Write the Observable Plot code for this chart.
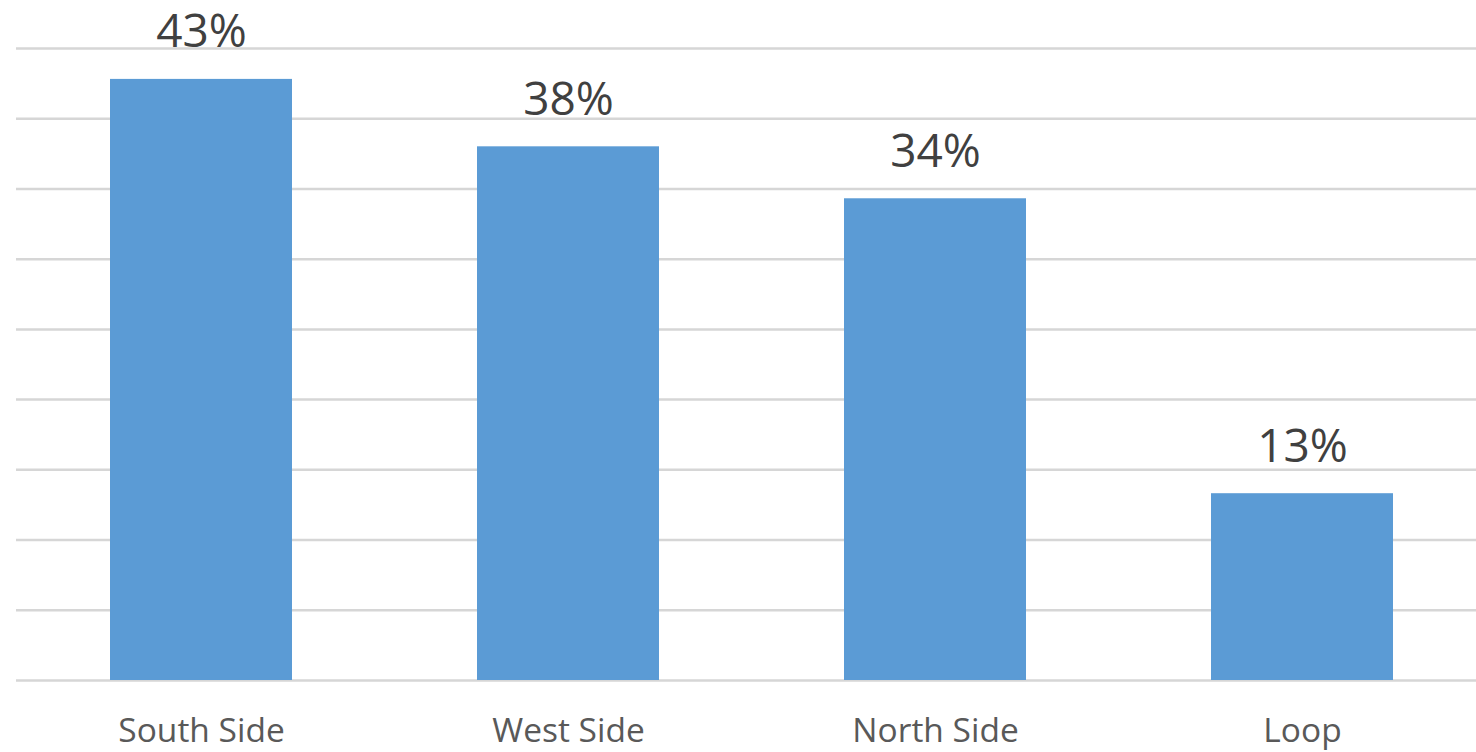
<!DOCTYPE html>
<html>
<head>
<meta charset="utf-8">
<script src="https://cdn.jsdelivr.net/npm/d3@7"></script>
<script src="https://cdn.jsdelivr.net/npm/@observablehq/plot@0.6"></script>
<style>
  html, body { margin: 0; padding: 0; background: #fff; }
  #chart svg { display: block; }
</style>
</head>
<body>
<div id="chart"></div>
<script>
const categories = ["South Side", "West Side", "North Side", "Loop"];
const values = [42.8, 38.0, 34.3, 13.3];
const valueLabels = ["43%", "38%", "34%", "13%"];
const gridTicks = [0, 5, 10, 15, 20, 25, 30, 35, 40, 45];

const data = categories.map((c, i) => ({category: c, value: values[i], label: valueLabels[i]}));

const chart = Plot.plot({
  width: 1476,
  height: 752,
  marginLeft: 16,
  marginRight: 0,
  marginTop: 48,
  marginBottom: 72,
  style: {fontFamily: "'Open Sans', sans-serif", background: "#fff", overflow: "visible"},
  x: {domain: categories, range: [16, 1487], paddingInner: 0.505, paddingOuter: 0.253, label: null},
  y: {domain: [0, 45], axis: null},
  marks: [
    Plot.ruleY(gridTicks, {stroke: "#d6d6d6", strokeWidth: 2.5}),
    Plot.barY(data, {x: "category", y: "value", fill: "#5B9BD5"}),
    Plot.text(data, {x: "category", y: "value", text: "label", lineAnchor: "bottom", dy: -32, fontSize: 46, fill: "#404040"}),
    Plot.axisX({tickSize: 0, tickPadding: 38, fontSize: 33.5, color: "#595959", label: null})
  ]
});
document.getElementById("chart").appendChild(chart);
</script>
</body>
</html>
